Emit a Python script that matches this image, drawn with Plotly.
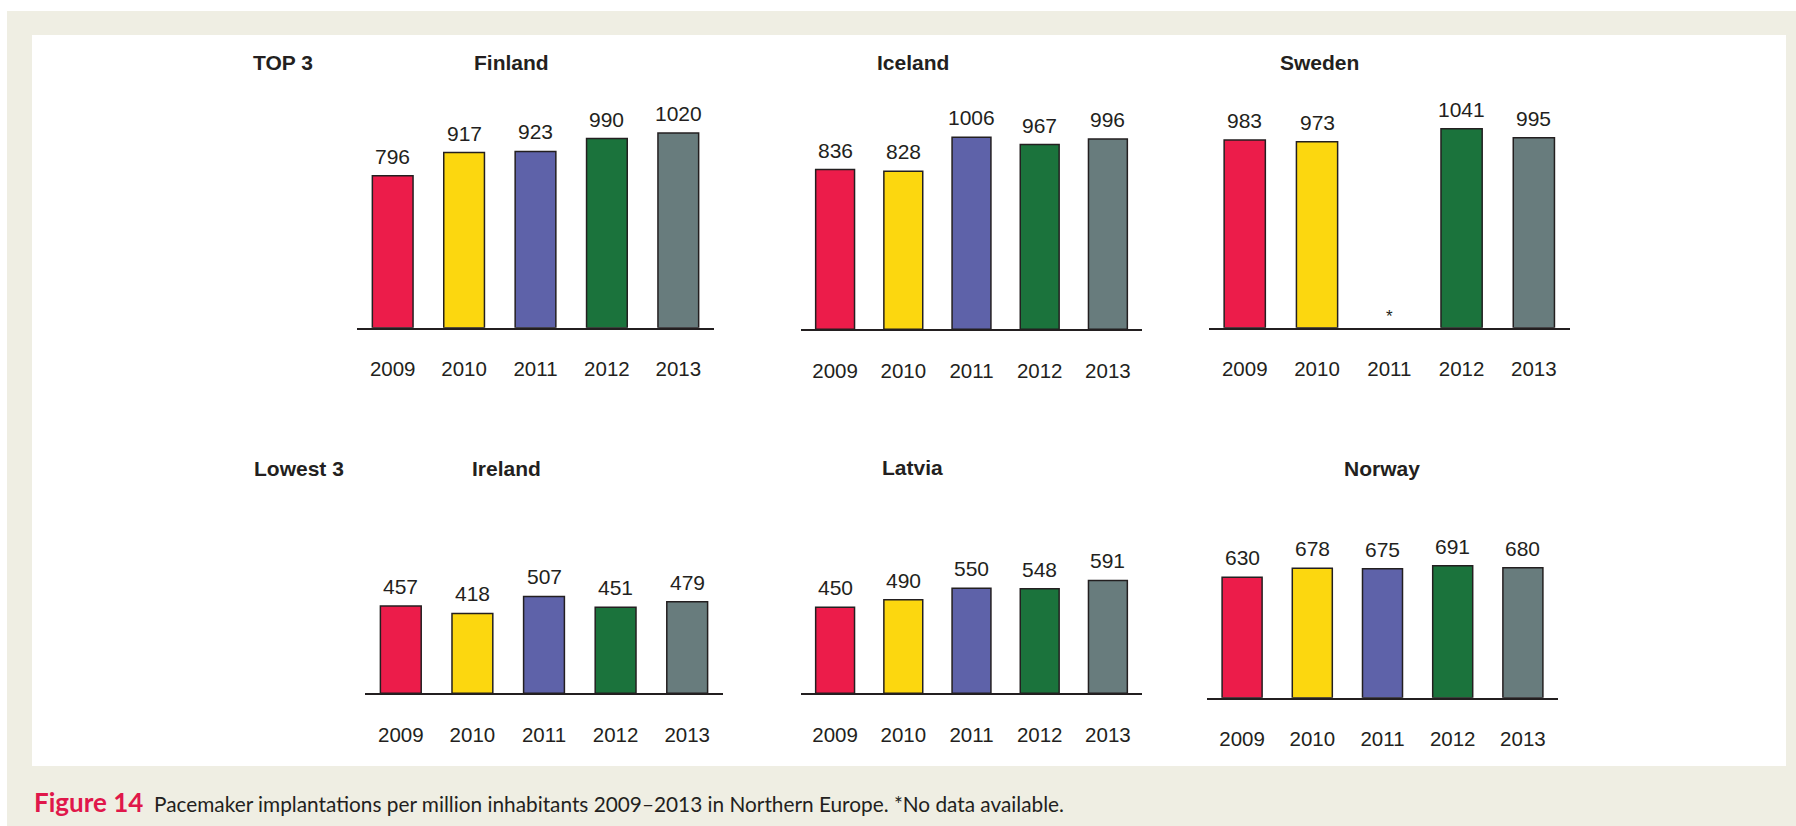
import plotly.graph_objects as go

# data
years = ['2009', '2010', '2011', '2012', '2013']
finland = [796, 917, 923, 990, 1020]
iceland = [836, 828, 1006, 967, 996]
sweden = [983, 973, None, 1041, 995]   # 2011: no data
ireland = [457, 418, 507, 451, 479]
latvia = [450, 490, 550, 548, 591]
norway = [630, 678, 675, 691, 680]

countries = ['Finland', 'Iceland', 'Sweden', 'Ireland', 'Latvia', 'Norway']
series = [finland, iceland, sweden, ireland, latvia, norway]
group_labels = ['TOP 3', 'Lowest 3']

bar_colors = ['#EC1C4A', '#FCD70F', '#5E62A9', '#1B733C', '#687C7D']
ink = '#231F20'

W, H = 1796, 826
YMAX = 1200
PX_PER_UNIT = 0.191

# pixel frames of each panel: (left, right, baseline)
frames = [
    (357, 714, 327.7),
    (801, 1142, 329.3),
    (1208.6, 1570, 327.7),
    (365, 723, 693.3),
    (801, 1142, 693.3),
    (1207, 1558, 697.7),
]
title_pos = [(511, 62), (913, 62), (1319, 62), (506, 468), (913, 467), (1382, 468)]
group_pos = [(283, 62), (298.5, 468)]


def px(x):
    return x / W


def py(y):
    return 1 - y / H


fig = go.Figure()
annotations = []

for i, (name, vals) in enumerate(zip(countries, series)):
    n = '' if i == 0 else str(i + 1)
    left, right, base = frames[i]
    top = base - YMAX * PX_PER_UNIT

    fig.add_trace(go.Bar(
        x=years, y=vals,
        marker=dict(color=bar_colors, line=dict(color=ink, width=1.5)),
        xaxis='x' + n, yaxis='y' + n,
        showlegend=False, hoverinfo='x+y',
    ))

    fig.layout['xaxis' + n] = dict(
        domain=[px(left), px(right)], anchor='y' + n,
        type='category', range=[-0.5, 4.5],
        showline=True, linewidth=2, linecolor=ink,
        showgrid=False, zeroline=False, ticks='',
        ticklabelstandoff=22,
        tickfont=dict(family='Liberation Sans, Arial', size=20.5, color=ink),
        fixedrange=True,
    )
    fig.layout['yaxis' + n] = dict(
        domain=[py(base), py(top)], anchor='x' + n,
        range=[0, YMAX], showline=False, showgrid=False, zeroline=False,
        showticklabels=False, ticks='', fixedrange=True,
    )

    # value labels above bars, "*" where no data
    # (numeric-looking categories: annotations need the category index)
    for j, v in enumerate(vals):
        if v is None:
            annotations.append(dict(
                x=j, y=0, xref='x' + n, yref='y' + n, text='*',
                showarrow=False, yanchor='bottom', yshift=0,
                font=dict(family='Liberation Sans, Arial', size=17, color=ink),
            ))
        else:
            annotations.append(dict(
                x=j, y=v, xref='x' + n, yref='y' + n, text=str(v),
                showarrow=False, yanchor='bottom', yshift=6,
                font=dict(family='Liberation Sans, Arial', size=21, color=ink),
            ))

    tx, ty = title_pos[i]
    annotations.append(dict(
        x=px(tx), y=py(ty), xref='paper', yref='paper', text='<b>' + name + '</b>',
        showarrow=False, xanchor='center', yanchor='middle',
        font=dict(family='Liberation Sans, Arial', size=21, color=ink),
    ))

for label, (gx, gy) in zip(group_labels, group_pos):
    annotations.append(dict(
        x=px(gx), y=py(gy), xref='paper', yref='paper', text='<b>' + label + '</b>',
        showarrow=False, xanchor='center', yanchor='middle',
        font=dict(family='Liberation Sans, Arial', size=21, color=ink),
    ))

# caption
annotations.append(dict(
    x=px(32), y=py(802), xref='paper', yref='paper',
    text="<span style='color:#E0174A;font-size:26px'><b>Figure 14</b></span>&nbsp;&nbsp;"
         "Pacemaker implantations per million inhabitants 2009\u20132013 in Northern Europe. *No data available.",
    showarrow=False, xanchor='left', yanchor='middle',
    font=dict(family='Lato, Open Sans', size=20.8, color=ink),
))

shapes = [
    dict(type='rect', xref='paper', yref='paper', layer='below',
         x0=px(7), x1=1, y0=0, y1=py(11),
         fillcolor='#EFEEE3', line=dict(width=0)),
    dict(type='rect', xref='paper', yref='paper', layer='below',
         x0=px(32), x1=px(1786), y0=py(766), y1=py(35),
         fillcolor='white', line=dict(width=0)),
]

fig.update_layout(
    width=W, height=H,
    margin=dict(l=0, r=0, t=0, b=0),
    paper_bgcolor='white', plot_bgcolor='rgba(0,0,0,0)',
    bargap=0.43,
    annotations=annotations,
    shapes=shapes,
)

# page body has a default 8px margin; drop it so the figure fills the window
fig.write_html("out.html", config={'displayModeBar': False},
               post_script="document.body.style.margin='0px';")
